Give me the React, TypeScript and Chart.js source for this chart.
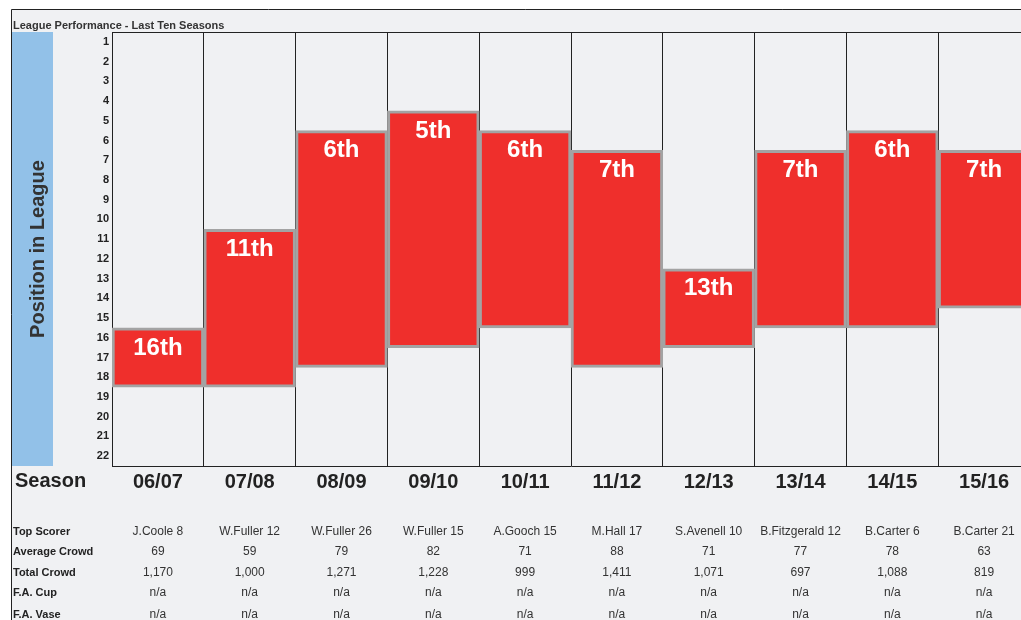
import React, { useEffect, useRef } from "react";
import { Chart, registerables } from "chart.js";

Chart.register(...registerables);

const seasons = ["06/07", "07/08", "08/09", "09/10", "10/11", "11/12", "12/13", "13/14", "14/15", "15/16"];
const finalPositions = [16, 11, 6, 5, 6, 7, 13, 7, 6, 7];
const lowestPositions = [18, 18, 17, 16, 15, 17, 16, 15, 15, 14];
const positionTicks = [1, 2, 3, 4, 5, 6, 7, 8, 9, 10, 11, 12, 13, 14, 15, 16, 17, 18, 19, 20, 21, 22];

const topScorers = ["J.Coole 8", "W.Fuller 12", "W.Fuller 26", "W.Fuller 15", "A.Gooch 15", "M.Hall 17", "S.Avenell 10", "B.Fitzgerald 12", "B.Carter 6", "B.Carter 21"];
const averageCrowd = ["69", "59", "79", "82", "71", "88", "71", "77", "78", "63"];
const totalCrowd = ["1,170", "1,000", "1,271", "1,228", "999", "1,411", "1,071", "697", "1,088", "819"];
const faCup = ["n/a", "n/a", "n/a", "n/a", "n/a", "n/a", "n/a", "n/a", "n/a", "n/a"];
const faVase = ["n/a", "n/a", "n/a", "n/a", "n/a", "n/a", "n/a", "n/a", "n/a", "n/a"];
const tableRowLabels = ["Top Scorer", "Average Crowd", "Total Crowd", "F.A. Cup", "F.A. Vase"];
const tableRows = [topScorers, averageCrowd, totalCrowd, faCup, faVase];
const tableRowY = [532, 552, 573, 593, 615];

const FONT = '"Liberation Sans", Arial, sans-serif';

function ordinal(n: number) {
  const s = n % 100;
  if (s >= 11 && s <= 13) return n + "th";
  if (n % 10 === 1) return n + "st";
  if (n % 10 === 2) return n + "nd";
  if (n % 10 === 3) return n + "rd";
  return n + "th";
}

const decorPlugin = {
  id: "decor",
  beforeDraw(chart: any) {
    const ctx = chart.ctx;
    const ca = chart.chartArea;
    ctx.save();
    ctx.fillStyle = "#ffffff";
    ctx.fillRect(0, 0, chart.width, chart.height);
    ctx.fillStyle = "#f0f1f3";
    ctx.fillRect(11, 9, chart.width, chart.height);
    ctx.strokeStyle = "#222222";
    ctx.lineWidth = 1;
    ctx.beginPath();
    ctx.moveTo(11.5, chart.height);
    ctx.lineTo(11.5, 9.5);
    ctx.lineTo(chart.width, 9.5);
    ctx.stroke();
    // title
    ctx.fillStyle = "#333333";
    ctx.font = `bold 11px ${FONT}`;
    ctx.textBaseline = "middle";
    ctx.textAlign = "left";
    ctx.fillText("League Performance - Last Ten Seasons", 13, 25.5);
    // blue axis title panel
    ctx.fillStyle = "#92c1e8";
    ctx.fillRect(12, ca.top, 41, ca.bottom - ca.top);
    ctx.save();
    ctx.translate(38, (ca.top + ca.bottom) / 2);
    ctx.rotate(-Math.PI / 2);
    ctx.fillStyle = "#333333";
    ctx.font = `bold 20px ${FONT}`;
    ctx.textAlign = "center";
    ctx.textBaseline = "middle";
    ctx.fillText("Position in League", 0, 0);
    ctx.restore();
    ctx.restore();
  },
  afterDraw(chart: any) {
    const ctx = chart.ctx;
    const ca = chart.chartArea;
    const xs = chart.scales.x;
    ctx.save();
    // top border of plot
    ctx.strokeStyle = "#222222";
    ctx.lineWidth = 1;
    ctx.beginPath();
    ctx.moveTo(ca.left, ca.top + 0.5);
    ctx.lineTo(chart.width, ca.top + 0.5);
    ctx.stroke();
    // Season label
    ctx.fillStyle = "#222222";
    ctx.font = `bold 20px ${FONT}`;
    ctx.textAlign = "left";
    ctx.textBaseline = "middle";
    ctx.fillText("Season", 15, 481);
    // table
    tableRowLabels.forEach((label, r) => {
      ctx.font = `bold 11px ${FONT}`;
      ctx.textAlign = "left";
      ctx.fillStyle = "#222222";
      ctx.fillText(label, 13, tableRowY[r]);
      ctx.font = `12px ${FONT}`;
      ctx.textAlign = "center";
      ctx.fillStyle = "#333333";
      tableRows[r].forEach((v, i) => {
        ctx.fillText(v, xs.getPixelForValue(i), tableRowY[r]);
      });
    });
    ctx.restore();
  },
  afterDatasetsDraw(chart: any) {
    const ctx = chart.ctx;
    const meta = chart.getDatasetMeta(0);
    ctx.save();
    ctx.fillStyle = "#ffffff";
    ctx.font = `bold 24px ${FONT}`;
    ctx.textAlign = "center";
    ctx.textBaseline = "middle";
    meta.data.forEach((el: any, i: number) => {
      const top = Math.min(el.y, el.base);
      ctx.fillText(ordinal(finalPositions[i]), el.x, top + 20);
    });
    ctx.restore();
  },
};

export default function App() {
  const ref = useRef<HTMLCanvasElement | null>(null);
  useEffect(() => {
    if (!ref.current) return;
    const chart = new Chart(ref.current, {
      type: "bar",
      data: {
        labels: seasons,
        datasets: [
          {
            data: finalPositions.map((p, i) => [p - 0.5, lowestPositions[i] + 0.5]) as any,
            backgroundColor: "#ef2f2c",
            borderColor: "#a3a3a3",
            borderWidth: 3,
            borderSkipped: false,
            categoryPercentage: 1,
            barPercentage: 1,
          },
        ],
      },
      options: {
        responsive: false,
        animation: false,
        devicePixelRatio: 1,
        layout: { padding: { left: 0, top: 32, right: 10, bottom: 0 } },
        plugins: { legend: { display: false }, tooltip: { enabled: false } },
        scales: {
          x: {
            offset: true,
            grid: { display: true, color: "#222222", lineWidth: 1, drawTicks: false, offset: true },
            border: { display: true, color: "#222222", width: 1 },
            ticks: {
              color: "#222222",
              font: { family: FONT, size: 20, weight: "bold" },
              padding: 4,
              maxRotation: 0,
              autoSkip: false,
            },
            afterFit: (scale: any) => {
              scale.height = 154;
            },
          },
          y: {
            reverse: true,
            min: 0.5,
            max: 22.5,
            grid: { display: false, drawTicks: false },
            border: { display: true, color: "#222222", width: 1 },
            afterBuildTicks: (scale: any) => {
              scale.ticks = positionTicks.map((v) => ({ value: v }));
            },
            ticks: {
              color: "#222222",
              font: { family: FONT, size: 11, weight: "bold" },
              padding: 3,
              autoSkip: false,
            },
            afterFit: (scale: any) => {
              scale.width = 112;
            },
          },
        },
      },
      plugins: [decorPlugin],
    } as any);
    return () => chart.destroy();
  }, []);
  return (
    <div style={{ position: "fixed", left: 0, top: 0, width: 1021, height: 620, overflow: "hidden", background: "#fff" }}>
      <canvas ref={ref} width={1040} height={620} style={{ display: "block", width: 1040, height: 620 }} />
    </div>
  );
}
